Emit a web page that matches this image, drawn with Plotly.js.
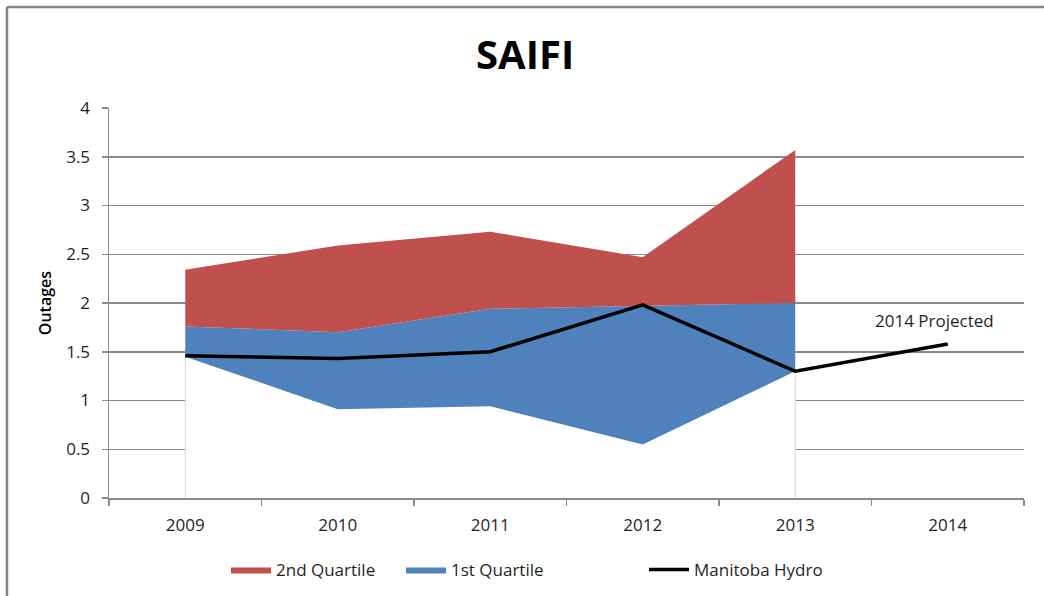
<!DOCTYPE html>
<html>
<head>
<meta charset="utf-8">
<script src="https://cdn.plot.ly/plotly-3.0.1.min.js"></script>
<style>html,body{margin:0;padding:0;background:#fff;}#chart{width:1044px;height:596px;}</style>
</head>
<body>
<div id="chart"></div>
<script>
// ---- data ----
const years = ['2009', '2010', '2011', '2012', '2013', '2014'];
const quartileYears = ['2009', '2010', '2011', '2012', '2013'];
const quartileBottom = [1.45, 0.91, 0.94, 0.55, 1.30];
const firstQuartile = [1.76, 1.70, 1.94, 1.97, 2.00];
const secondQuartile = [2.34, 2.59, 2.73, 2.47, 3.57];
const manitobaHydro = [1.46, 1.43, 1.50, 1.98, 1.30, 1.58];
const yTicks = [0, 0.5, 1, 1.5, 2, 2.5, 3, 3.5, 4];
const annotationText = '2014 Projected';
const annotationYear = '2014';
const annotationValue = 1.82;

const FONT = 'Open Sans, Liberation Sans, sans-serif';
const TXT = '#1f1f1f';
const GRID = '#8a8a8a';

const first = quartileYears[0], last = quartileYears[quartileYears.length - 1];

const traces = [
  { // white base (hides the gridlines below the band)
    x: quartileYears, y: quartileBottom, type: 'scatter', mode: 'lines',
    fill: 'tozeroy', fillcolor: '#ffffff', line: {width: 0},
    showlegend: false, hoverinfo: 'skip'
  },
  {
    x: quartileYears, y: firstQuartile, type: 'scatter', mode: 'lines',
    name: '1st Quartile', fill: 'tonexty', fillcolor: '#4F81BD',
    line: {width: 0, color: '#4F81BD'}, legend: 'legend2'
  },
  {
    x: quartileYears, y: secondQuartile, type: 'scatter', mode: 'lines',
    name: '2nd Quartile', fill: 'tonexty', fillcolor: '#C0504D',
    line: {width: 0, color: '#C0504D'}, legend: 'legend'
  },
  { // thin edges of the base area
    x: [first, first, null, last, last],
    y: [0, quartileBottom[0], null, 0, quartileBottom[quartileBottom.length - 1]],
    type: 'scatter', mode: 'lines', connectgaps: false,
    line: {width: 1, color: '#d6d4e4'}, showlegend: false, hoverinfo: 'skip'
  },
  {
    x: years, y: manitobaHydro, type: 'scatter', mode: 'lines',
    name: 'Manitoba Hydro', line: {width: 3.5, color: '#000000'}, legend: 'legend3'
  }
];

const px = p => (p - 109) / 915;
const py = p => (498 - p) / 390;
const cy = p => 1 - p / 596;

const legendBase = {
  orientation: 'h', yref: 'container', yanchor: 'middle', y: cy(570), xanchor: 'left', itemwidth: 40,
  font: {family: FONT, size: 17, color: TXT}, bgcolor: 'rgba(0,0,0,0)'
};

const layout = {
  width: 1044, height: 596,
  margin: {l: 109, r: 20, t: 108, b: 98, autoexpand: false},
  paper_bgcolor: '#ffffff', plot_bgcolor: '#ffffff',
  font: {family: FONT, size: 17, color: TXT},
  title: {text: 'SAIFI', font: {family: FONT, size: 40, color: '#000', weight: 'bold'},
          x: 0.503, xanchor: 'center', y: 0.908, yanchor: 'middle'},
  xaxis: {
    type: 'category', categoryarray: years, categoryorder: 'array',
    range: [-0.5, years.length - 0.5], tickson: 'boundaries',
    showgrid: false, zeroline: false, showline: true, linecolor: GRID, linewidth: 1.5,
    ticks: 'outside', ticklen: 6, tickcolor: GRID, tickwidth: 1.5,
    ticklabelstandoff: 11, fixedrange: true, automargin: false,
    tickfont: {family: FONT, size: 17, color: TXT}
  },
  yaxis: {
    range: [0, 4], tickvals: yTicks, ticktext: yTicks.map(String),
    showgrid: true, gridcolor: GRID, gridwidth: 1.5, zeroline: false,
    showline: true, linecolor: GRID, linewidth: 1.5,
    ticks: 'outside', ticklen: 6, tickcolor: GRID, tickwidth: 1.5,
    ticklabelstandoff: 8, fixedrange: true, automargin: false,
    tickfont: {family: FONT, size: 17, color: TXT},
    title: {text: 'Outages', standoff: 10, font: {family: FONT, size: 16, color: '#000', weight: 600}}
  },
  legend: Object.assign({}, legendBase, {x: px(226)}),
  legend2: Object.assign({}, legendBase, {x: px(401)}),
  legend3: Object.assign({}, legendBase, {x: px(644)}),
  annotations: [{
    x: years.indexOf(annotationYear), y: annotationValue, xref: 'x', yref: 'y', xshift: -13,
    text: annotationText, showarrow: false,
    font: {family: FONT, size: 17, color: TXT}
  }],
  shapes: [
    {type: 'line', xref: 'paper', yref: 'paper', x0: px(7), x1: px(7), y0: py(7), y1: py(620),
     line: {color: '#878787', width: 2.5}},
    {type: 'line', xref: 'paper', yref: 'paper', x0: px(7), x1: px(1080), y0: py(7), y1: py(7),
     line: {color: '#878787', width: 2.5}}
  ],
  showlegend: true
};

Plotly.newPlot('chart', traces, layout, {displayModeBar: false, staticPlot: true});
</script>
</body>
</html>
